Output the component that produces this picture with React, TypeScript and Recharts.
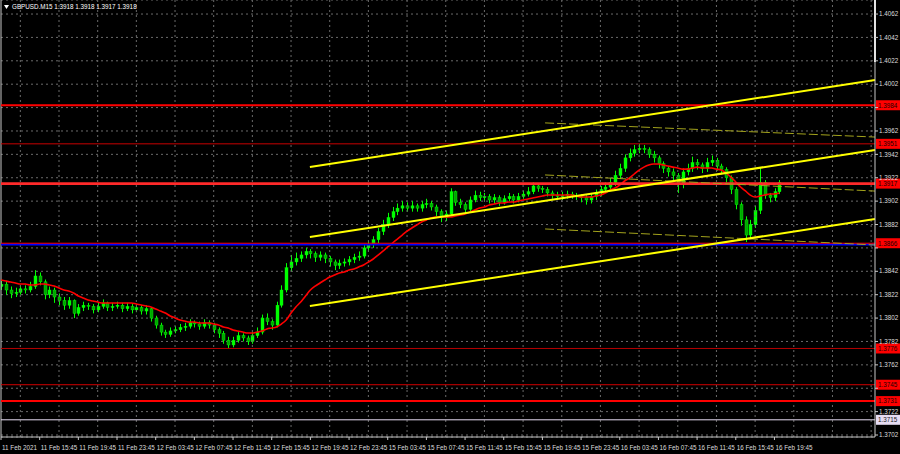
import React from 'react';
import { ComposedChart, Bar, Line, XAxis, YAxis, CartesianGrid, ReferenceLine } from 'recharts';

const FONT = '"Liberation Sans", Arial, sans-serif';

// 30-minute candles, GBPUSD, 11 Feb 11:45 -> 16 Feb 20:00 (index step = 2 M15 bars)
const opens = [
  1.3829, 1.3831, 1.3826, 1.3823, 1.3824, 1.3827, 1.3826, 1.3829, 1.3838, 1.3833,
  1.3822, 1.3826, 1.3820, 1.3817, 1.3813, 1.3817, 1.3806, 1.3811, 1.3813, 1.3812,
  1.3809, 1.3812, 1.3815, 1.3811, 1.3812, 1.3813, 1.3810, 1.3812, 1.3809, 1.3811,
  1.3808, 1.3810, 1.3802, 1.3796, 1.3790, 1.3788, 1.3791, 1.3792, 1.3794, 1.3795,
  1.3798, 1.3797, 1.3795, 1.3798, 1.3796, 1.3792, 1.3789, 1.3783, 1.3779, 1.3783,
  1.3787, 1.3785, 1.3782, 1.3787, 1.3790, 1.3802, 1.3799, 1.3796, 1.3813, 1.3826,
  1.3845, 1.3850, 1.3853, 1.3856, 1.3859, 1.3857, 1.3854, 1.3856, 1.3853, 1.3850,
  1.3847, 1.3849, 1.3850, 1.3852, 1.3854, 1.3855, 1.3862, 1.3865, 1.3869, 1.3876,
  1.3882, 1.3888, 1.3893, 1.3896, 1.3898, 1.3896, 1.3898, 1.3896, 1.3899, 1.3900,
  1.3897, 1.3893, 1.3888, 1.3891, 1.3910, 1.3901, 1.3899, 1.3895, 1.3903, 1.3907,
  1.3905, 1.3906, 1.3903, 1.3905, 1.3901, 1.3904, 1.3906, 1.3903, 1.3906, 1.3908,
  1.3910, 1.3915, 1.3913, 1.3912, 1.3909, 1.3907, 1.3906, 1.3907, 1.3908, 1.3907,
  1.3906, 1.3905, 1.3903, 1.3906, 1.3909, 1.3912, 1.3914, 1.3918, 1.3924, 1.3930,
  1.3939, 1.3943, 1.3946, 1.3947, 1.3946, 1.3942, 1.3939, 1.3934, 1.3930, 1.3927,
  1.3924, 1.3916, 1.3927, 1.3930, 1.3935, 1.3933, 1.3930, 1.3935, 1.3937, 1.3932,
  1.3929, 1.3922, 1.3912, 1.3899, 1.3886, 1.3873, 1.3882, 1.3894, 1.3918, 1.3907,
  1.3905, 1.3910,
];

const highs = [
  1.3835, 1.3834, 1.3829, 1.3828, 1.3830, 1.3830, 1.3833, 1.3843, 1.3841, 1.3835,
  1.3829, 1.3828, 1.3823, 1.3820, 1.3820, 1.3818, 1.3814, 1.3816, 1.3815, 1.3814,
  1.3815, 1.3818, 1.3816, 1.3815, 1.3816, 1.3815, 1.3815, 1.3814, 1.3814, 1.3813,
  1.3813, 1.3811, 1.3804, 1.3798, 1.3792, 1.3794, 1.3795, 1.3797, 1.3798, 1.3801,
  1.3800, 1.3799, 1.3801, 1.3800, 1.3798, 1.3794, 1.3791, 1.3786, 1.3786, 1.3790,
  1.3789, 1.3787, 1.3790, 1.3794, 1.3805, 1.3806, 1.3801, 1.3816, 1.3830, 1.3849,
  1.3856, 1.3858, 1.3859, 1.3862, 1.3861, 1.3859, 1.3859, 1.3858, 1.3855, 1.3852,
  1.3852, 1.3853, 1.3855, 1.3857, 1.3859, 1.3865, 1.3868, 1.3872, 1.3879, 1.3886,
  1.3892, 1.3897, 1.3900, 1.3902, 1.3901, 1.3902, 1.3900, 1.3902, 1.3904, 1.3902,
  1.3899, 1.3895, 1.3894, 1.3913, 1.3911, 1.3904, 1.3901, 1.3906, 1.3911, 1.3910,
  1.3909, 1.3908, 1.3908, 1.3907, 1.3907, 1.3909, 1.3908, 1.3909, 1.3911, 1.3914,
  1.3918, 1.3917, 1.3915, 1.3914, 1.3911, 1.3910, 1.3910, 1.3911, 1.3910, 1.3909,
  1.3908, 1.3907, 1.3909, 1.3912, 1.3915, 1.3918, 1.3922, 1.3928, 1.3934, 1.3942,
  1.3947, 1.3950, 1.3951, 1.3950, 1.3948, 1.3945, 1.3941, 1.3936, 1.3932, 1.3930,
  1.3926, 1.3930, 1.3934, 1.3940, 1.3938, 1.3935, 1.3939, 1.3941, 1.3939, 1.3934,
  1.3931, 1.3924, 1.3914, 1.3901, 1.3889, 1.3886, 1.3898, 1.3930, 1.3920, 1.3909,
  1.3913, 1.3920,
];

const lows = [
  1.3826, 1.3822, 1.3819, 1.3820, 1.3822, 1.3823, 1.3824, 1.3827, 1.3830, 1.3818,
  1.3819, 1.3815, 1.3813, 1.3809, 1.3810, 1.3802, 1.3804, 1.3808, 1.3809, 1.3806,
  1.3807, 1.3810, 1.3808, 1.3808, 1.3810, 1.3807, 1.3808, 1.3806, 1.3807, 1.3805,
  1.3805, 1.3799, 1.3793, 1.3787, 1.3785, 1.3786, 1.3789, 1.3790, 1.3791, 1.3793,
  1.3794, 1.3792, 1.3793, 1.3793, 1.3789, 1.3785, 1.3780, 1.3776, 1.3777, 1.3781,
  1.3782, 1.3779, 1.3780, 1.3785, 1.3788, 1.3796, 1.3792, 1.3794, 1.3811, 1.3824,
  1.3842, 1.3847, 1.3850, 1.3853, 1.3853, 1.3850, 1.3851, 1.3849, 1.3846, 1.3843,
  1.3844, 1.3846, 1.3847, 1.3849, 1.3851, 1.3853, 1.3859, 1.3862, 1.3866, 1.3873,
  1.3879, 1.3885, 1.3890, 1.3893, 1.3893, 1.3893, 1.3893, 1.3893, 1.3896, 1.3894,
  1.3889, 1.3884, 1.3885, 1.3889, 1.3898, 1.3896, 1.3892, 1.3893, 1.3901, 1.3902,
  1.3902, 1.3900, 1.3900, 1.3898, 1.3899, 1.3902, 1.3900, 1.3901, 1.3904, 1.3906,
  1.3908, 1.3910, 1.3909, 1.3906, 1.3904, 1.3903, 1.3903, 1.3904, 1.3904, 1.3903,
  1.3901, 1.3899, 1.3900, 1.3903, 1.3906, 1.3909, 1.3911, 1.3915, 1.3921, 1.3927,
  1.3936, 1.3940, 1.3943, 1.3943, 1.3939, 1.3935, 1.3930, 1.3926, 1.3923, 1.3920,
  1.3909, 1.3913, 1.3924, 1.3927, 1.3929, 1.3926, 1.3927, 1.3932, 1.3928, 1.3925,
  1.3918, 1.3908, 1.3895, 1.3881, 1.3867, 1.3870, 1.3879, 1.3891, 1.3904, 1.3901,
  1.3902, 1.3908,
];

const closes = [
  1.3831, 1.3826, 1.3823, 1.3824, 1.3827, 1.3826, 1.3829, 1.3838, 1.3833, 1.3822,
  1.3826, 1.3820, 1.3817, 1.3813, 1.3817, 1.3806, 1.3811, 1.3813, 1.3812, 1.3809,
  1.3812, 1.3815, 1.3811, 1.3812, 1.3813, 1.3810, 1.3812, 1.3809, 1.3811, 1.3808,
  1.3810, 1.3802, 1.3796, 1.3790, 1.3788, 1.3791, 1.3792, 1.3794, 1.3795, 1.3798,
  1.3797, 1.3795, 1.3798, 1.3796, 1.3792, 1.3789, 1.3783, 1.3779, 1.3783, 1.3787,
  1.3785, 1.3782, 1.3787, 1.3790, 1.3802, 1.3799, 1.3796, 1.3813, 1.3826, 1.3845,
  1.3850, 1.3853, 1.3856, 1.3859, 1.3857, 1.3854, 1.3856, 1.3853, 1.3850, 1.3847,
  1.3849, 1.3850, 1.3852, 1.3854, 1.3855, 1.3862, 1.3865, 1.3869, 1.3876, 1.3882,
  1.3888, 1.3893, 1.3896, 1.3898, 1.3896, 1.3898, 1.3896, 1.3899, 1.3900, 1.3897,
  1.3893, 1.3888, 1.3891, 1.3910, 1.3901, 1.3899, 1.3895, 1.3903, 1.3907, 1.3905,
  1.3906, 1.3903, 1.3905, 1.3901, 1.3904, 1.3906, 1.3903, 1.3906, 1.3908, 1.3910,
  1.3915, 1.3913, 1.3912, 1.3909, 1.3907, 1.3906, 1.3907, 1.3908, 1.3907, 1.3906,
  1.3905, 1.3903, 1.3906, 1.3909, 1.3912, 1.3914, 1.3918, 1.3924, 1.3930, 1.3939,
  1.3943, 1.3946, 1.3947, 1.3946, 1.3942, 1.3939, 1.3934, 1.3930, 1.3927, 1.3924,
  1.3916, 1.3927, 1.3930, 1.3935, 1.3933, 1.3930, 1.3935, 1.3937, 1.3932, 1.3929,
  1.3922, 1.3912, 1.3899, 1.3886, 1.3873, 1.3882, 1.3894, 1.3918, 1.3907, 1.3905,
  1.3910, 1.3918,
];

// moving average (red line)
const maValues = [
  1.38346, 1.38337, 1.38328, 1.38320, 1.38311, 1.38311, 1.38303, 1.38303, 1.38311, 1.38311,
  1.38303, 1.38294, 1.38277, 1.38260, 1.38251, 1.38234, 1.38209, 1.38192, 1.38174, 1.38166,
  1.38157, 1.38149, 1.38149, 1.38149, 1.38149, 1.38149, 1.38149, 1.38149, 1.38140, 1.38132,
  1.38123, 1.38115, 1.38097, 1.38080, 1.38063, 1.38038, 1.38021, 1.38004, 1.37995, 1.37986,
  1.37986, 1.37978, 1.37978, 1.37978, 1.37969, 1.37961, 1.37944, 1.37935, 1.37918, 1.37909,
  1.37901, 1.37892, 1.37892, 1.37901, 1.37909, 1.37927, 1.37935, 1.37944, 1.37969, 1.38004,
  1.38063, 1.38115, 1.38157, 1.38209, 1.38260, 1.38294, 1.38320, 1.38346, 1.38371, 1.38388,
  1.38405, 1.38414, 1.38431, 1.38440, 1.38457, 1.38474, 1.38499, 1.38525, 1.38559, 1.38593,
  1.38628, 1.38662, 1.38696, 1.38730, 1.38764, 1.38790, 1.38816, 1.38841, 1.38859, 1.38876,
  1.38884, 1.38884, 1.38884, 1.38884, 1.38893, 1.38901, 1.38910, 1.38927, 1.38944, 1.38961,
  1.38970, 1.38987, 1.38995, 1.39004, 1.39004, 1.39012, 1.39012, 1.39021, 1.39030, 1.39038,
  1.39047, 1.39055, 1.39064, 1.39072, 1.39072, 1.39072, 1.39072, 1.39072, 1.39072, 1.39064,
  1.39055, 1.39055, 1.39055, 1.39064, 1.39072, 1.39089, 1.39115, 1.39132, 1.39158, 1.39192,
  1.39218, 1.39252, 1.39286, 1.39311, 1.39329, 1.39337, 1.39337, 1.39329, 1.39320, 1.39311,
  1.39303, 1.39294, 1.39294, 1.39303, 1.39311, 1.39303, 1.39303, 1.39303, 1.39294, 1.39286,
  1.39260, 1.39226, 1.39184, 1.39141, 1.39107, 1.39072, 1.39055, 1.39064, 1.39072, 1.39081,
  1.39081, 1.39089,
];

const xTickLabels = [
  '11 Feb 2021', '11 Feb 15:45', '11 Feb 19:45', '11 Feb 23:45', '12 Feb 03:45', '12 Feb 07:45',
  '12 Feb 11:45', '12 Feb 15:45', '12 Feb 19:45', '12 Feb 23:45', '15 Feb 03:45', '15 Feb 07:45',
  '15 Feb 11:45', '15 Feb 15:45', '15 Feb 19:45', '15 Feb 23:45', '16 Feb 03:45', '16 Feb 07:45',
  '16 Feb 11:45', '16 Feb 15:45', '16 Feb 19:45',
];

const yTicks = [
  1.4062, 1.4042, 1.4022, 1.4002, 1.3982, 1.3962, 1.3942, 1.3922, 1.3902, 1.3882,
  1.3862, 1.3842, 1.3822, 1.3802, 1.3782, 1.3762, 1.3742, 1.3722, 1.3702,
];
const hiddenYTicks = [1.3982, 1.3862, 1.3742];

// horizontal levels
const levelPrices = [1.3865, 1.3866, 1.3984, 1.3951, 1.3917, 1.3776, 1.3745, 1.3731, 1.3715];
const levelLabels = ['', '1.3866', '1.3984', '1.3951', '1.3917', '1.3776', '1.3745', '1.3731', '1.3715'];

// channel (x in M15-bar index, y in price)
const channelX = [127.8, 361.6];
const channelUpper = [1.39311, 1.40056];
const channelMiddle = [1.38713, 1.39457];
const channelLower = [1.38123, 1.38867];
const dashX = [225.1, 361.6];
const dashUpper = [1.39689, 1.39568];
const dashMiddle = [1.39244, 1.39106];
const dashLower = [1.38782, 1.38645];

const title = 'GBPUSD.M15  1.3918 1.3918 1.3917 1.3918';

const data = closes.map((c, k) => ({
  idx: k * 2,
  open: opens[k],
  high: highs[k],
  low: lows[k],
  close: c,
  range: [lows[k], highs[k]],
  ma: maValues[k],
}));

const X_MAX = 361.6;
const Y_MIN = 1.37003;
const Y_MAX = 1.4074;

const levelStyles = [
  { stroke: '#0000ff', width: 2, bg: '', fg: '' },
  { stroke: '#ff0000', width: 1, bg: '#ff0000', fg: '#1a0000' },
  { stroke: '#ff0000', width: 2, bg: '#ff0000', fg: '#1a0000' },
  { stroke: '#c80000', width: 1, bg: '#ff0000', fg: '#1a0000' },
  { stroke: '#ff2a2a', width: 2.6, bg: '#ff0000', fg: '#1a0000' },
  { stroke: '#b40000', width: 1, bg: '#ff0000', fg: '#1a0000' },
  { stroke: '#d00000', width: 1, bg: '#ff0000', fg: '#1a0000' },
  { stroke: '#ff0000', width: 2, bg: '#ff0000', fg: '#1a0000' },
  { stroke: '#e6dcf2', width: 1, bg: '#e6dcf2', fg: '#1a1a1a' },
];

const Candle = (props: any) => {
  const { x, y, width, height, payload } = props;
  if (x == null || y == null || !payload) return <g />;
  const { open, close, high, low } = payload;
  const top = Math.min(y, y + height);
  const h = Math.abs(height);
  const hi = Math.max(high, open, close);
  const lo = Math.min(low, open, close);
  const span = hi - lo || 1e-9;
  const py = (p: number) => top + ((hi - p) / span) * h;
  const cx = Math.round(x + width / 2) + 0.5;
  const bull = close >= open;
  const bt = py(Math.max(open, close));
  const bb = py(Math.min(open, close));
  return (
    <g>
      <line x1={cx} x2={cx} y1={top} y2={top + h} stroke="#00ff00" strokeWidth={1} />
      <rect
        x={cx - 1.5}
        y={bt}
        width={3}
        height={Math.max(1, bb - bt)}
        fill={bull ? '#00ff00' : '#00a400'}
        stroke="#00ff00"
        strokeWidth={0.4}
      />
    </g>
  );
};

const YTick = (props: any) => {
  const { x, y, payload } = props;
  if (hiddenYTicks.some((v) => Math.abs(v - payload.value) < 1e-7)) return <g />;
  return (
    <text x={x} y={y + 2.2} fontSize={6.3} fill="#dcdcdc" fontFamily={FONT} textAnchor="start">
      {Number(payload.value).toFixed(4)}
    </text>
  );
};

const XTick = (props: any) => {
  const { x, y, index } = props;
  return (
    <text x={x + 1} y={y + 7.5} fontSize={6.3} fill="#dcdcdc" fontFamily={FONT} textAnchor="start">
      {xTickLabels[index] ?? ''}
    </text>
  );
};

const PriceTag = (props: any) => {
  const { viewBox, text, bg, fg } = props;
  if (!viewBox || !text) return <g />;
  const x0 = viewBox.x + viewBox.width + 1;
  const y0 = viewBox.y;
  return (
    <g>
      <rect x={x0} y={y0 - 5} width={25} height={10} fill={bg} />
      <text x={x0 + 2} y={y0 + 2.3} fontSize={6.3} fill={fg} fontFamily={FONT}>
        {text}
      </text>
    </g>
  );
};

export default function App() {
  const xTicks = xTickLabels.map((_, i) => i * 16);
  const gridX = Array.from({ length: 23 }, (_, i) => 8 + 16 * i);
  const seg = (xs: number[], ys: number[]) => [
    { x: xs[0], y: ys[0] },
    { x: xs[1], y: ys[1] },
  ];
  return (
    <div style={{ position: 'absolute', left: 0, top: 0, width: 900, height: 454, background: '#000', overflow: 'hidden' }}>
      <ComposedChart width={900} height={454} data={data} margin={{ top: 0, right: 0, bottom: 0, left: 1 }}>
        <CartesianGrid horizontal vertical={false} stroke="#6a6a6a" strokeDasharray="2 3" />
        {gridX.map((g) => (
          <ReferenceLine key={'gx' + g} x={g} stroke="#6a6a6a" strokeDasharray="2 3" ifOverflow="visible" />
        ))}
        <XAxis
          type="number"
          dataKey="idx"
          domain={[0, X_MAX]}
          ticks={xTicks}
          allowDataOverflow
          height={17}
          axisLine={{ stroke: '#c8c8c8' }}
          tickLine={{ stroke: '#c8c8c8' }}
          tickSize={3}
          tick={<XTick />}
          interval={0}
        />
        <YAxis
          orientation="right"
          type="number"
          domain={[Y_MIN, Y_MAX]}
          ticks={yTicks}
          allowDataOverflow
          width={25}
          axisLine={{ stroke: '#c8c8c8' }}
          tickLine={{ stroke: '#c8c8c8' }}
          tickSize={3}
          tickMargin={1}
          tick={<YTick />}
          interval={0}
        />
        <ReferenceLine x={0} stroke="#c8c8c8" ifOverflow="visible" />
        <Bar dataKey="range" barSize={3} shape={<Candle />} isAnimationActive={false} />
        <Line dataKey="ma" stroke="#ff0000" strokeWidth={1.6} dot={false} type="monotone" isAnimationActive={false} />
        {levelPrices.map((p, i) => (
          <ReferenceLine
            key={'lv' + i}
            y={p}
            stroke={levelStyles[i].stroke}
            strokeWidth={levelStyles[i].width}
            ifOverflow="visible"
            label={<PriceTag text={levelLabels[i]} bg={levelStyles[i].bg} fg={levelStyles[i].fg} />}
          />
        ))}
        <ReferenceLine segment={seg(dashX, dashUpper)} stroke="#a3a31c" strokeDasharray="9 3" ifOverflow="visible" />
        <ReferenceLine segment={seg(dashX, dashMiddle)} stroke="#a3a31c" strokeDasharray="9 3" ifOverflow="visible" />
        <ReferenceLine segment={seg(dashX, dashLower)} stroke="#a3a31c" strokeDasharray="9 3" ifOverflow="visible" />
        <ReferenceLine segment={seg(channelX, channelUpper)} stroke="#ffff00" strokeWidth={2} ifOverflow="visible" />
        <ReferenceLine segment={seg(channelX, channelMiddle)} stroke="#ffff00" strokeWidth={2} ifOverflow="visible" />
        <ReferenceLine segment={seg(channelX, channelLower)} stroke="#ffff00" strokeWidth={2} ifOverflow="visible" />
        <ReferenceLine
          segment={[{ x: X_MAX, y: Y_MAX }, { x: X_MAX, y: 1.4021 }]}
          stroke="#ffffff"
          strokeWidth={2}
          ifOverflow="visible"
        />
      </ComposedChart>
      <svg width={200} height={14} style={{ position: 'absolute', left: 0, top: 0 }}>
        <polygon points="4,5 9,5 6.5,9" fill="#ffffff" />
        <text x={12} y={9.3} fontSize={6.3} fill="#ffffff" fontFamily={FONT}>
          {title}
        </text>
      </svg>
    </div>
  );
}
